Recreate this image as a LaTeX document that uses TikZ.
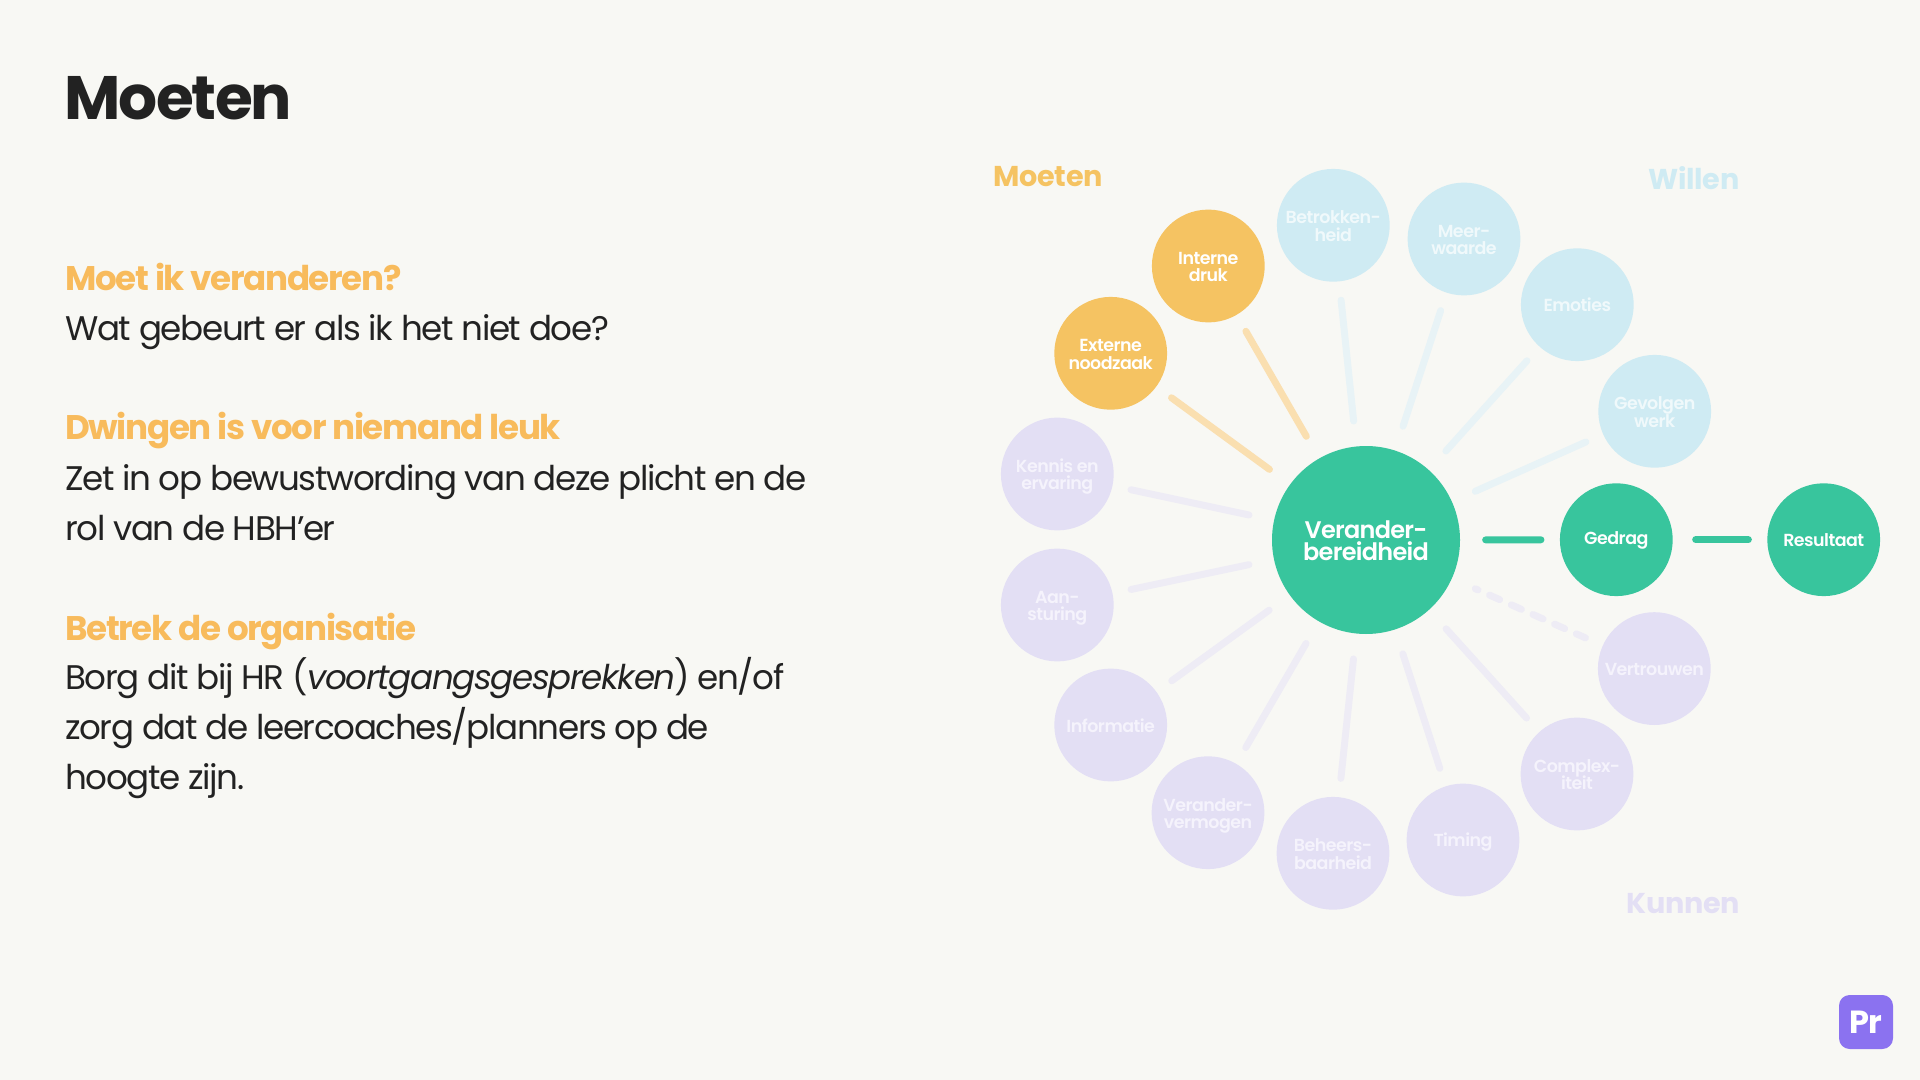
\documentclass[tikz,border=0pt]{standalone}
\usepackage{fontspec}
\setmainfont{Poppins}[LetterSpace=-4]
\newfontfamily\poptitle{Poppins}[LetterSpace=-3]
\newfontfamily\popsemi{Poppins SemiBold}[LetterSpace=-3]
\newfontfamily\popgrp{Poppins}[LetterSpace=-1]
\definecolor{bgc}{HTML}{F8F8F4}
\definecolor{ink}{HTML}{222222}
\definecolor{grn}{HTML}{38C59D}
\definecolor{org}{HTML}{F5C362}
\definecolor{orghead}{HTML}{F8BB5C}
\definecolor{orgl}{HTML}{FADFB0}
\definecolor{blu}{HTML}{CFEBF3}
\definecolor{blul}{HTML}{E8F3F6}
\definecolor{blut}{HTML}{F0F9FB}
\definecolor{pur}{HTML}{E3DFF4}
\definecolor{purl}{HTML}{EEECF5}
\definecolor{purt}{HTML}{F5F3FC}
\definecolor{prc}{HTML}{8B72F0}
% two centred lines with a fixed baseline distance and fixed outer extents
\newcommand\twolines[5]{\vbox{\offinterlineskip\halign{\hfil##\hfil\cr
  \rule{0pt}{#1}\smash{#4}\cr
  \rule{0pt}{#3}\rule[-#2]{0pt}{#2}\smash{#5}\cr}}}
\newcommand\tll[2]{\twolines{13.8pt}{3pt}{12.9pt}{#1}{#2}}
\tikzset{
  circ/.style={circle,minimum size=84.6pt,inner sep=0pt,font=\fontsize{13.1pt}{12.9pt}\selectfont\popsemi,
    execute at begin node={\rule{0pt}{13.8pt}},execute at end node={\rule[-3pt]{0pt}{3pt}}},
  gc/.style={circ,fill=grn,text=white},
  oc/.style={circ,fill=org,text=white},
  bc/.style={circ,fill=blu,text=blut},
  pc/.style={circ,fill=pur,text=purt},
  spoke/.style={line width=5.2pt,line cap=round,shorten <=19pt,shorten >=14pt},
  txt/.style={anchor=base west,inner sep=0pt,font=\fontsize{25.6pt}{30pt}\selectfont,text=ink},
  hd/.style={anchor=base west,inner sep=0pt,font=\fontsize{25.6pt}{30pt}\selectfont\bfseries,text=orghead},
  grp/.style={anchor=base west,inner sep=0pt,font=\fontsize{21.5pt}{25pt}\selectfont\popgrp\bfseries},
}
\begin{document}
\begin{tikzpicture}[x=0.75pt,y=-0.75pt]
\useasboundingbox (0,0) rectangle (1920,1080);
\fill[bgc] (0,0) rectangle (1920,1080);
\node[anchor=base west,inner sep=0pt,font=\fontsize{46pt}{50pt}\selectfont\poptitle\bfseries,text=ink] (title) at (64,120) {Moeten};
\node[hd] (h1) at (65,291) {Moet ik veranderen?};
\node[txt] (t1) at (65,341) {Wat gebeurt er als ik het niet doe?};
\node[hd] (h2) at (65,440) {Dwingen is voor niemand leuk};
\node[txt] (t2a) at (65,490) {Zet in op bewustwording van deze plicht en de};
\node[txt] (t2b) at (65,540) {rol van de HBH’er};
\node[hd] (h3) at (65,640) {Betrek de organisatie};
\node[txt] (t3a) at (65,689) {Borg dit bij HR (\textit{voortgangsgesprekken}) en/of};
\node[txt] (t3b) at (65,739) {zorg dat de leercoaches/planners op de};
\node[txt] (t3c) at (65,789) {hoogte zijn.};
\node[grp,text=org] (gm) at (993,187) {Moeten};
\node[grp,text=blu] (gw) at (1648,190) {Willen};
\node[grp,text=pur] (gk) at (1626,913) {Kunnen};
\node[circle,fill=grn,text=white,minimum size=141pt,inner sep=0pt,font=\fontsize{18pt}{16.5pt}\selectfont\popsemi] (c) at (1366,540) {\twolines{17.6pt}{4pt}{16.5pt}{Verander-}{bereidheid}};
\node[oc] (n1) at (1208.3,266) {\tll{Interne}{druk}};
\node[oc] (n2) at (1110.7,353.3) {\tll{Externe}{noodzaak}};
\node[bc] (n3) at (1333.3,225.3) {\tll{Betrokken-}{heid}};
\node[bc] (n4) at (1464,239) {\tll{Meer-}{waarde}};
\node[bc] (n5) at (1577.3,304.7) {Emoties};
\node[bc] (n6) at (1654.7,411.3) {\tll{Gevolgen}{werk}};
\node[gc] (n7) at (1616.3,539.7) {\raisebox{1.5pt}{Gedrag}};
\node[gc] (n8) at (1823.7,539.7) {Resultaat};
\node[pc] (n9) at (1057.3,474) {\tll{Kennis en}{ervaring}};
\node[pc] (n10) at (1057.3,605) {\tll{Aan-}{sturing}};
\node[pc] (n11) at (1110.7,725) {Informatie};
\node[pc] (n12) at (1208,812.7) {\tll{Verander-}{vermogen}};
\node[pc] (n13) at (1333,853.3) {\tll{Beheers-}{baarheid}};
\node[pc] (n14) at (1463,840) {Timing};
\node[pc] (n15) at (1577,774) {\tll{Complex-}{iteit}};
\node[pc] (n16) at (1654.3,668.6) {Vertrouwen};
\draw[spoke,orgl] (c) -- (n1);
\draw[spoke,orgl] (c) -- (n2);
\draw[spoke,blul] (c) -- (n3);
\draw[spoke,blul] (c) -- (n4);
\draw[spoke,blul] (c) -- (n5);
\draw[spoke,blul] (c) -- (n6);
\draw[spoke,grn] (c) -- (n7);
\draw[spoke,grn,shorten <=17pt] (n7) -- (n8);
\draw[spoke,purl] (c) -- (n9);
\draw[spoke,purl] (c) -- (n10);
\draw[spoke,purl] (c) -- (n11);
\draw[spoke,purl] (c) -- (n12);
\draw[spoke,purl] (c) -- (n13);
\draw[spoke,purl] (c) -- (n14);
\draw[spoke,purl] (c) -- (n15);
\draw[spoke,purl,dash pattern=on 8.3pt off 9.5pt,dash phase=6pt] (c) -- (n16);
\node[fill=prc,rounded corners=8pt,minimum size=40.5pt,inner sep=0pt,text=white,font=\fontsize{24pt}{24pt}\selectfont\poptitle\bfseries] (pr) at (1866,1022) {Pr};
\end{tikzpicture}
\end{document}
